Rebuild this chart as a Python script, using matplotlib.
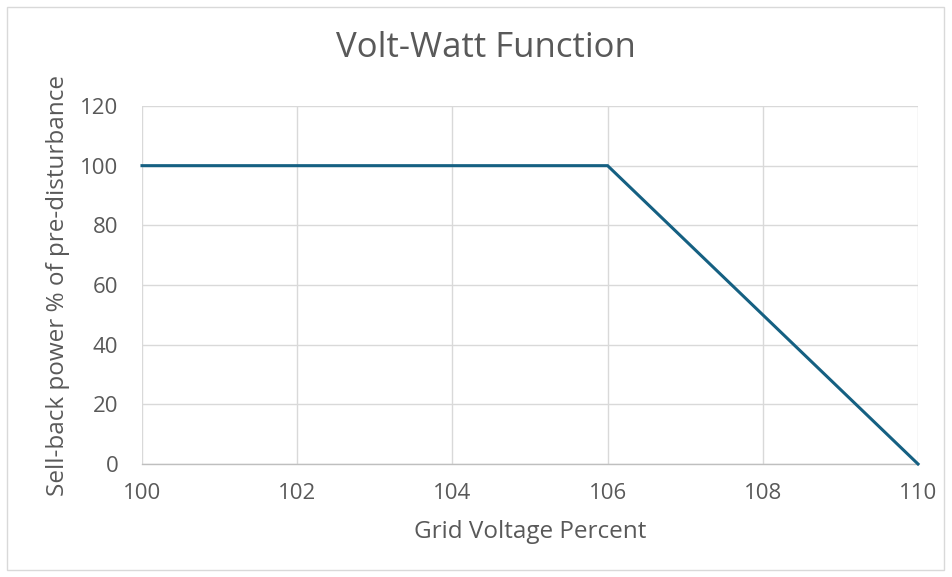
' Volt-Watt function chart '

import matplotlib
matplotlib.use('Agg')
import matplotlib.pyplot as plt
from matplotlib.patches import Rectangle

voltage = [100, 106, 110]
power = [100, 100, 0]
x_ticks = [100, 102, 104, 106, 108, 110]
y_ticks = [0, 20, 40, 60, 80, 100, 120]

TEXT = '#595959'
GRID = '#d9d9d9'
LINE = '#156082'


def main():
    ' duh '
    plt.rcParams['font.family'] = ['Open Sans', 'DejaVu Sans']
    fig = plt.figure(figsize=(9.52, 5.77), dpi=100)
    ax = fig.add_axes([142 / 952, 1 - 464 / 577, (918 - 142) / 952, (464 - 106) / 577])

    ax.plot(voltage, power, color=LINE, linewidth=2.2, solid_joinstyle='miter', clip_on=False, zorder=3)

    ax.set_xlim(100, 110)
    ax.set_ylim(0, 120)
    ax.set_xticks(x_ticks)
    ax.set_yticks(y_ticks)
    ax.grid(True, color=GRID, linewidth=1)
    ax.tick_params(length=0, labelsize=16, labelcolor=TEXT)
    ax.tick_params(axis='x', pad=14)
    ax.tick_params(axis='y', pad=17)
    for side in ('top', 'right', 'left'):
        ax.spines[side].set_visible(False)
    ax.spines['bottom'].set_color('#bfbfbf')
    ax.spines['bottom'].set_linewidth(1)

    ax.set_xlabel('Grid Voltage Percent', fontsize=17.5, color=TEXT, va='center')
    ax.xaxis.set_label_coords(0.5, (464 - 532) / 358)
    ax.set_ylabel('Sell-back power % of pre-disturbance', fontsize=17.5, color=TEXT, va='center')
    ax.yaxis.set_label_coords((58 - 142) / 776, 0.5)
    fig.text(486 / 952, 1 - 48 / 577, 'Volt-Watt Function', ha='center', va='center', fontsize=25, color=TEXT)

    fig.patches.append(Rectangle((7 / 952, 7 / 577), 937 / 952, 563 / 577, transform=fig.transFigure,
                                 fill=False, edgecolor=GRID, linewidth=1))
    fig.savefig('out.png', dpi=100)


if __name__ == '__main__':
    main()
